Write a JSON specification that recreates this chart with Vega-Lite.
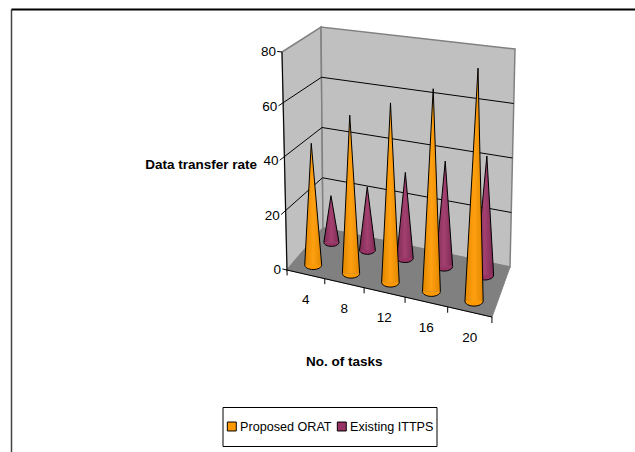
{
"$schema":"https://vega.github.io/schema/vega-lite/v6.json",
"autosize":"none","width":624,"height":443,"padding":{"left":11,"top":9,"right":0,"bottom":0},
"background":"white",
"config":{"view":{"stroke":null},"text":{"font":"Liberation Sans"}},
"data":{"values":[
{"part":"cone","task":4,"series":"Proposed ORAT","value":45},
{"part":"cone","task":8,"series":"Proposed ORAT","value":57.5},
{"part":"cone","task":12,"series":"Proposed ORAT","value":64},
{"part":"cone","task":16,"series":"Proposed ORAT","value":71},
{"part":"cone","task":20,"series":"Proposed ORAT","value":80},
{"part":"cone","task":4,"series":"Existing ITTPS","value":18},
{"part":"cone","task":8,"series":"Existing ITTPS","value":24},
{"part":"cone","task":12,"series":"Existing ITTPS","value":32},
{"part":"cone","task":16,"series":"Existing ITTPS","value":38.7},
{"part":"cone","task":20,"series":"Existing ITTPS","value":43},
{"part":"wall","id":"side","kk":0,"a":0,"d":0,"z":0},{"part":"wall","id":"side","kk":1,"a":0,"d":1,"z":0},{"part":"wall","id":"side","kk":2,"a":0,"d":1,"z":80},{"part":"wall","id":"side","kk":3,"a":0,"d":0,"z":80},
{"part":"wall","id":"back","kk":0,"a":0,"d":1,"z":0},{"part":"wall","id":"back","kk":1,"a":1,"d":1,"z":0},{"part":"wall","id":"back","kk":2,"a":1,"d":1,"z":80},{"part":"wall","id":"back","kk":3,"a":0,"d":1,"z":80},
{"part":"floor","id":"floor","kk":0,"a":0,"d":0,"z":0},{"part":"floor","id":"floor","kk":1,"a":1,"d":0,"z":0},{"part":"floor","id":"floor","kk":2,"a":1,"d":1,"z":0},{"part":"floor","id":"floor","kk":3,"a":0,"d":1,"z":0},
{"part":"black","id":"g20","kk":0,"a":-0.025,"d":0,"z":20},{"part":"black","id":"g20","kk":1,"a":0,"d":1,"z":20},{"part":"black","id":"g20","kk":2,"a":1,"d":1,"z":20},
{"part":"black","id":"g40","kk":0,"a":-0.025,"d":0,"z":40},{"part":"black","id":"g40","kk":1,"a":0,"d":1,"z":40},{"part":"black","id":"g40","kk":2,"a":1,"d":1,"z":40},
{"part":"black","id":"g60","kk":0,"a":-0.025,"d":0,"z":60},{"part":"black","id":"g60","kk":1,"a":0,"d":1,"z":60},{"part":"black","id":"g60","kk":2,"a":1,"d":1,"z":60},
{"part":"black","id":"laxis","kk":0,"a":0,"d":0,"z":0},{"part":"black","id":"laxis","kk":1,"a":0,"d":0,"z":80},
{"part":"black","id":"baxis","kk":0,"a":0,"d":0,"z":0},{"part":"black","id":"baxis","kk":1,"a":1,"d":0,"z":0},
{"part":"black","id":"t80","kk":0,"a":-0.025,"d":0,"z":80},{"part":"black","id":"t80","kk":1,"a":0,"d":0,"z":80},
{"part":"black","id":"t0","kk":0,"a":-0.025,"d":0,"z":0},{"part":"black","id":"t0","kk":1,"a":0,"d":0,"z":0},
{"part":"black","id":"b0","kk":0,"a":0,"d":0,"z":0},{"part":"black","id":"b0","kk":1,"a":0,"d":0,"z":-2},
{"part":"black","id":"b1","kk":0,"a":0.2,"d":0,"z":0},{"part":"black","id":"b1","kk":1,"a":0.2,"d":0,"z":-2},
{"part":"black","id":"b2","kk":0,"a":0.4,"d":0,"z":0},{"part":"black","id":"b2","kk":1,"a":0.4,"d":0,"z":-2},
{"part":"black","id":"b3","kk":0,"a":0.6,"d":0,"z":0},{"part":"black","id":"b3","kk":1,"a":0.6,"d":0,"z":-2},
{"part":"black","id":"b4","kk":0,"a":0.8,"d":0,"z":0},{"part":"black","id":"b4","kk":1,"a":0.8,"d":0,"z":-2},
{"part":"black","id":"b5","kk":0,"a":1,"d":0,"z":0},{"part":"black","id":"b5","kk":1,"a":1,"d":0,"z":-2},
{"part":"vlabel","label":"0","kk":0,"a":0,"d":0,"z":0},{"part":"vlabel","label":"20","kk":0,"a":0,"d":0,"z":20},{"part":"vlabel","label":"40","kk":0,"a":0,"d":0,"z":40},{"part":"vlabel","label":"60","kk":0,"a":0,"d":0,"z":60},{"part":"vlabel","label":"80","kk":0,"a":0,"d":0,"z":80},
{"part":"hlabel","label":"4","kk":0,"a":0.1,"d":0,"z":0},{"part":"hlabel","label":"8","kk":0,"a":0.3,"d":0,"z":0},{"part":"hlabel","label":"12","kk":0,"a":0.5,"d":0,"z":0},{"part":"hlabel","label":"16","kk":0,"a":0.7,"d":0,"z":0},{"part":"hlabel","label":"20","kk":0,"a":0.9,"d":0,"z":0},
{"part":"ytitle","label":"Data transfer rate","kk":0,"a":0,"d":0,"z":38.5},
{"part":"xtitle","label":"No. of tasks","kk":0,"a":0.3,"d":0,"z":0}
]},
"transform":[
{"calculate":"datum.part=='cone'?[0,1,2,3]:[datum.kk]","as":"k"},
{"flatten":["k"]},
{"calculate":"datum.part=='cone'?(datum.task/4-0.5)/5:datum.a","as":"U"},
{"calculate":"datum.part=='cone'?(datum.series=='Proposed ORAT'?0.22:0.75):datum.d","as":"V"},
{"calculate":"datum.U-0.1*datum.U*(1-datum.U)","as":"W"},
{"calculate":"(datum.part=='cone'?datum.value:datum.z)/80","as":"H"},
{"calculate":"(1-datum.W)*((1-datum.V)*287+datum.V*323)+datum.W*((1-datum.V)*492+datum.V*510)","as":"fx"},
{"calculate":"(1-datum.W)*((1-datum.V)*270+datum.V*228)+datum.W*((1-datum.V)*317+datum.V*267)","as":"fy"},
{"calculate":"(1-datum.W)*((1-datum.V)*282+datum.V*321)+datum.W*((1-datum.V)*497+datum.V*515)","as":"tx"},
{"calculate":"(1-datum.W)*((1-datum.V)*52+datum.V*27)+datum.W*((1-datum.V)*77+datum.V*49)","as":"ty"},
{"calculate":"datum.series=='Proposed ORAT'?8.4+0.8*datum.W:7.4+1.8*datum.W","as":"R"},
{"calculate":"datum.part=='cone'&&datum.k!=1?(datum.k==0?datum.fx-datum.R:datum.k==2?datum.fx+datum.R:datum.fx):datum.fx+(datum.tx-datum.fx)*datum.H","as":"X"},
{"calculate":"datum.part=='cone'&&datum.k!=1?datum.fy:datum.fy+(datum.ty-datum.fy)*datum.H","as":"Y"},
{"calculate":"4*datum.R*datum.R","as":"S"}
],
"encoding":{
"x":{"field":"X","type":"quantitative","scale":{"domain":[11,635],"nice":false,"zero":false},"axis":{"orient":"top","title":null,"labels":false,"ticks":false,"domain":true,"domainColor":"#000000","domainWidth":2,"grid":true,"values":[11],"gridColor":"#444444","gridWidth":1.5}},
"y":{"field":"Y","type":"quantitative","scale":{"domain":[9,452],"reverse":true,"nice":false,"zero":false},"axis":null}
},
"layer":[
{"transform":[{"filter":"datum.part=='wall'"}],"mark":{"type":"line","fill":"#c0c0c0","stroke":"#808080","strokeWidth":1.5,"interpolate":"linear-closed"},"encoding":{"detail":{"field":"id"},"order":{"field":"k"}}},
{"transform":[{"filter":"datum.part=='floor'"}],"mark":{"type":"line","fill":"#808080","stroke":"#808080","strokeWidth":1,"interpolate":"linear-closed"},"encoding":{"detail":{"field":"id"},"order":{"field":"k"}}},
{"transform":[{"filter":"datum.part=='black'"}],"mark":{"type":"line","stroke":"#000000","strokeWidth":1},"encoding":{"detail":{"field":"id"},"order":{"field":"k"}}},
{"transform":[{"filter":"datum.part=='cone'&&datum.series=='Existing ITTPS'&&datum.k<3"}],"mark":{"type":"line","stroke":"#000000","strokeWidth":1,"fill":{"gradient":"linear","x1":0,"x2":1,"y1":0,"y2":0,"stops":[{"offset":0,"color":"#7d2a54"},{"offset":0.5,"color":"#a3406f"},{"offset":1,"color":"#7d2a54"}]}},"encoding":{"detail":{"field":"task"},"order":{"field":"k"}}},
{"transform":[{"filter":"datum.part=='cone'&&datum.series=='Existing ITTPS'&&datum.k==3"}],"mark":{"type":"point","filled":true,"stroke":"#000000","strokeWidth":1,"opacity":1,"shape":"M -1 0 A 1 0.55 0 0 0 1 0"},"encoding":{"size":{"field":"S","type":"quantitative","scale":null},"fill":{"field":"series","type":"nominal","scale":{"domain":["Proposed ORAT","Existing ITTPS"],"range":["#ff9900","#993366"]},"legend":{"title":null,"orient":"none","legendX":211.5,"legendY":398,"direction":"horizontal","columns":2,"symbolType":"square","symbolSize":80,"symbolStrokeColor":"#000000","symbolStrokeWidth":1,"symbolOpacity":1,"labelFont":"Liberation Sans","labelFontSize":12.6,"labelColor":"#000000","fillColor":"#ffffff","strokeColor":"#000000","padding":3,"clipHeight":33,"columnPadding":3,"labelOffset":2,"labelLimit":200}}}},
{"transform":[{"filter":"datum.part=='cone'&&datum.series=='Proposed ORAT'&&datum.k<3"}],"mark":{"type":"line","stroke":"#000000","strokeWidth":1,"fill":{"gradient":"linear","x1":0,"x2":1,"y1":0,"y2":0,"stops":[{"offset":0,"color":"#e08600"},{"offset":0.5,"color":"#ffa010"},{"offset":1,"color":"#e08600"}]}},"encoding":{"detail":{"field":"task"},"order":{"field":"k"}}},
{"transform":[{"filter":"datum.part=='cone'&&datum.series=='Proposed ORAT'&&datum.k==3"}],"mark":{"type":"point","filled":true,"stroke":"#000000","strokeWidth":1,"opacity":1,"shape":"M -1 0 A 1 0.55 0 0 0 1 0"},"encoding":{"size":{"field":"S","type":"quantitative","scale":null},"fill":{"field":"series","type":"nominal"}}},
{"transform":[{"filter":"datum.part=='vlabel'"}],"mark":{"type":"text","align":"right","baseline":"middle","dx":-6,"fontSize":13.5,"font":"Liberation Sans","color":"#000000"},"encoding":{"text":{"field":"label"}}},
{"transform":[{"filter":"datum.part=='hlabel'"}],"mark":{"type":"text","align":"center","baseline":"middle","dy":26,"fontSize":13.5,"font":"Liberation Sans","color":"#000000"},"encoding":{"text":{"field":"label"}}},
{"transform":[{"filter":"datum.part=='ytitle'"}],"mark":{"type":"text","align":"right","baseline":"middle","dx":-27.5,"fontSize":13.5,"fontWeight":"bold","font":"Liberation Sans","color":"#000000"},"encoding":{"text":{"field":"label"}}},
{"transform":[{"filter":"datum.part=='xtitle'"}],"mark":{"type":"text","align":"center","baseline":"middle","dy":79,"fontSize":13.5,"fontWeight":"bold","font":"Liberation Sans","color":"#000000"},"encoding":{"text":{"field":"label"}}}
]
}
